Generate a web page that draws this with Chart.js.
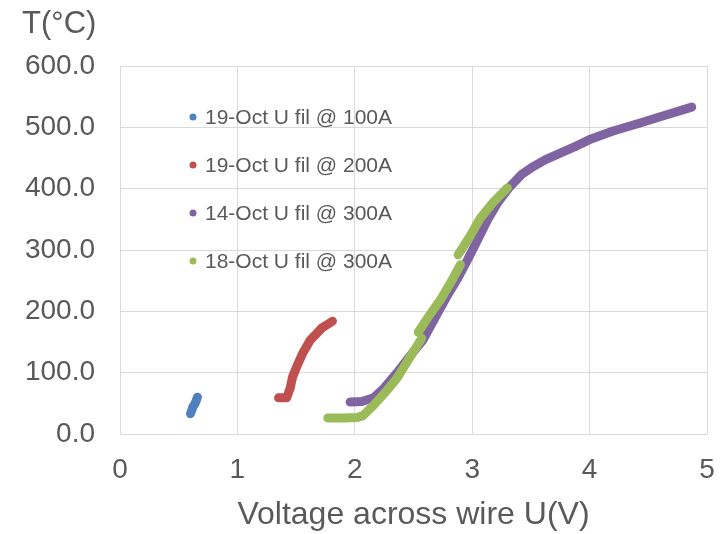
<!DOCTYPE html>
<html>
<head>
<meta charset="utf-8">
<script src="https://cdn.jsdelivr.net/npm/chart.js@4"></script>
<style>
  html, body { margin: 0; padding: 0; background: #fff; }
  #wrap { width: 728px; height: 534px; }
</style>
</head>
<body>
<div id="wrap"><canvas id="myChart" width="728" height="534"></canvas></div>
<script>
// series labels
var seriesNames = ['19-Oct U fil @ 100A', '19-Oct U fil @ 200A', '14-Oct U fil @ 300A', '18-Oct U fil @ 300A'];
var seriesColors = ['#4F81BD', '#C0504D', '#8064A2', '#9BBB59'];

// voltage U (V) and temperature T (°C)
var blueU = [0.60, 0.61, 0.62, 0.64, 0.65, 0.66];
var blueT = [33, 38, 44, 50, 55, 60];

var redU = [1.35, 1.42, 1.45, 1.47, 1.51, 1.56, 1.62, 1.67, 1.72, 1.77, 1.81];
var redT = [59, 59, 75, 93, 112, 133, 153, 163, 173, 179, 184];

var purpleU = [1.96, 2.06, 2.16, 2.25, 2.36, 2.47, 2.58, 2.68, 2.78, 2.88, 2.96, 3.05, 3.13, 3.22, 3.32, 3.42, 3.52, 3.62, 3.75, 3.88, 4.00, 4.20, 4.43, 4.65, 4.87];
var purpleT = [52, 53, 59, 75, 100, 127, 153, 188, 223, 255, 284, 318, 349, 378, 403, 423, 436, 447, 458, 469, 480, 494, 507, 520, 533];

// null = break between recorded runs
var greenU = [1.77, 1.90, 2.02, 2.07, 2.16, 2.26, 2.36, 2.46, 2.57, null, 2.54, 2.63, 2.73, 2.82, 2.90, null, 2.88, 2.98, 3.07, 3.18, 3.30];
var greenT = [26, 26, 27, 30, 47, 68, 91, 122, 156, null, 166, 192, 219, 248, 276, null, 292, 322, 352, 378, 401];

var xTicks = [0, 1, 2, 3, 4, 5];
var yTicks = [0, 100, 200, 300, 400, 500, 600];

var textColor = '#595959';
var gridColor = '#d9d9d9';
var fontFam = '"Liberation Sans", Arial, sans-serif';

function pts(us, ts) {
    return us.map((u, i) => ({ x: u, y: ts[i] }));
}

function makeSet(idx, us, ts, order) {
    return {
        label: seriesNames[idx],
        data: pts(us, ts),
        showLine: true,
        borderColor: seriesColors[idx],
        backgroundColor: seriesColors[idx],
        borderWidth: 9,
        borderCapStyle: 'round',
        borderJoinStyle: 'round',
        pointRadius: 0,
        pointHoverRadius: 0,
        spanGaps: false,
        order: order
    };
}

// legend sits inside the plot, top left, and the y title sits above the axis
var extras = {
    id: 'extras',
    afterDraw(chart) {
        var c = chart.ctx;
        var a = chart.chartArea;
        c.save();
        c.font = '31px ' + fontFam;
        c.fillStyle = textColor;
        c.textAlign = 'left';
        c.textBaseline = 'alphabetic';
        c.fillText('T(\u00B0C)', 22, 33);

        c.font = '21px ' + fontFam;
        c.textBaseline = 'middle';
        chart.data.datasets.forEach((ds, i) => {
            var y = a.top + 51 + i * 48;
            c.beginPath();
            c.arc(a.left + 73, y, 3.5, 0, Math.PI * 2);
            c.fillStyle = ds.borderColor;
            c.fill();
            c.fillStyle = textColor;
            c.fillText(ds.label, a.left + 85, y + 1);
        });
        c.restore();
    }
};

var ctx = document.getElementById('myChart').getContext('2d');
var myChart = new Chart(ctx, {
    type: 'scatter',
    data: {
        datasets: [
            makeSet(0, blueU, blueT, 2),
            makeSet(1, redU, redT, 2),
            makeSet(2, purpleU, purpleT, 1),
            makeSet(3, greenU, greenT, 0)
        ]
    },
    options: {
        responsive: false,
        animation: false,
        events: [],
        layout: { padding: { top: 66, right: 21, left: 0, bottom: 0 } },
        plugins: {
            legend: { display: false },
            tooltip: { enabled: false }
        },
        scales: {
            x: {
                type: 'linear',
                min: xTicks[0],
                max: xTicks[xTicks.length - 1],
                afterBuildTicks: s => { s.ticks = xTicks.map(v => ({ value: v })); },
                afterFit: s => { s.height = 100; s.paddingRight = 0; s.paddingLeft = 0; },
                grid: { color: gridColor, drawTicks: false },
                border: { color: gridColor },
                ticks: {
                    color: textColor,
                    font: { family: fontFam, size: 28 },
                    padding: 19
                },
                title: {
                    display: true,
                    text: 'Voltage across wire U(V)',
                    color: textColor,
                    font: { family: fontFam, size: 32 },
                    padding: { top: 0, bottom: 0 }
                }
            },
            y: {
                type: 'linear',
                min: yTicks[0],
                max: yTicks[yTicks.length - 1],
                afterBuildTicks: s => { s.ticks = yTicks.map(v => ({ value: v })); },
                afterFit: s => { s.width = 120; },
                grid: { color: gridColor, drawTicks: false },
                border: { color: gridColor },
                ticks: {
                    color: textColor,
                    font: { family: fontFam, size: 28 },
                    padding: 25,
                    callback: v => v.toFixed(1)
                }
            }
        }
    },
    plugins: [extras]
});
</script>
</body>
</html>
